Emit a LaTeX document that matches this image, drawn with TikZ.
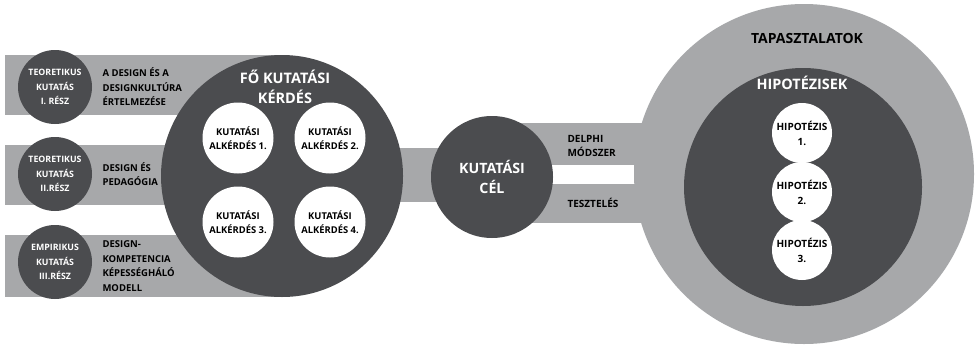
\documentclass[tikz,border=0pt]{standalone}
\usepackage{fontspec}
\setmainfont{Open Sans}
\definecolor{dk}{HTML}{4B4C4F}
\definecolor{lt}{HTML}{A7A8AA}
\begin{document}
\begin{tikzpicture}[x=1pt,y=-1pt,
  bar/.style={fill=lt},
  dcirc/.style={circle,fill=dk,draw=none,inner sep=0pt,minimum size=#1},
  lcirc/.style={circle,fill=lt,draw=none,inner sep=0pt,minimum size=#1},
  wcirc/.style={circle,fill=white,draw=none,inner sep=0pt,minimum size=#1,align=center,text=black},
  qtxt/.style={font=\bfseries\fontsize{9.4}{14}\selectfont},
  htxt/.style={font=\bfseries\fontsize{10}{15}\selectfont},
  wtxt/.style={text=white,align=center,font=\bfseries\fontsize{#1}{20}\selectfont},
  btxt/.style={text=black,align=left,anchor=west,font=\bfseries\fontsize{9.5}{14.5}\selectfont},
  stxt/.style={text=white,align=center,font=\bfseries\fontsize{8.8}{14.5}\selectfont}]
\useasboundingbox (0,0) rectangle (976,351);
\fill[white] (0,0) rectangle (976,351);
% bars
\fill[bar] (5,55) rectangle (282,115);
\fill[bar] (5,145) rectangle (282,205);
\fill[bar] (5,235) rectangle (282,297);
\fill[bar] (282,148) rectangle (492,202);
\fill[bar] (492,123) rectangle (804,165);
\fill[bar] (492,184) rectangle (804,223);
% big right circle
\node[lcirc=340pt] (tap) at (804,174) {};
\fill[white] (555,165) rectangle (630,184);
\node[dcirc=238pt] (hyp) at (803,187) {};
\node[text=black,font=\bfseries\fontsize{14}{16}\selectfont] (taplab) at (807,38) {TAPASZTALATOK};
\node[wtxt=14.4] (hyplab) at (802,83) {HIPOTÉZISEK};
\node[wcirc=60pt,htxt] (h1) at (802,133) {HIPOTÉZIS\\1.};
\node[wcirc=60pt,htxt] (h2) at (802,192) {HIPOTÉZIS\\2.};
\node[wcirc=60pt,htxt] (h3) at (802,250) {HIPOTÉZIS\\3.};
% main circle
\node[dcirc=242pt] (main) at (282,176) {};
\node[wtxt=14.5] (mainlab) at (285,87) {FŐ KUTATÁSI\\KÉRDÉS};
\node[wcirc=71pt,qtxt] (q1) at (238,138) {KUTATÁSI\\ALKÉRDÉS 1.};
\node[wcirc=71pt,qtxt] (q2) at (330,138) {KUTATÁSI\\ALKÉRDÉS 2.};
\node[wcirc=71pt,qtxt] (q3) at (238,222) {KUTATÁSI\\ALKÉRDÉS 3.};
\node[wcirc=71pt,qtxt] (q4) at (330,222) {KUTATÁSI\\ALKÉRDÉS 4.};
% cel circle
\node[dcirc=122pt,wtxt=14.2] (cel) at (492,177) {KUTATÁSI\\CÉL};
\node[btxt,font=\bfseries\fontsize{10}{14}\selectfont] (delphi) at (564,146) {DELPHI\\MÓDSZER};
\node[btxt,font=\bfseries\fontsize{10}{14}\selectfont] (teszt) at (564,203) {TESZTELÉS};
% left small circles
\node[dcirc=74pt,stxt] (t1) at (55,87) {TEORETIKUS\\KUTATÁS\\I. RÉSZ};
\node[dcirc=74pt,stxt] (t2) at (55,174) {TEORETIKUS\\KUTATÁS\\II.RÉSZ};
\node[dcirc=74pt,stxt] (t3) at (55,262) {EMPIRIKUS\\KUTATÁS\\III.RÉSZ};
\node[btxt] (l1) at (99,87) {A DESIGN ÉS A\\DESIGNKULTÚRA\\ÉRTELMEZÉSE};
\node[btxt] (l2) at (99,174) {DESIGN ÉS\\PEDAGÓGIA};
\node[btxt] (l3) at (99,266) {DESIGN-\\KOMPETENCIA\\KÉPESSÉGHÁLÓ\\MODELL};
\end{tikzpicture}
\end{document}
